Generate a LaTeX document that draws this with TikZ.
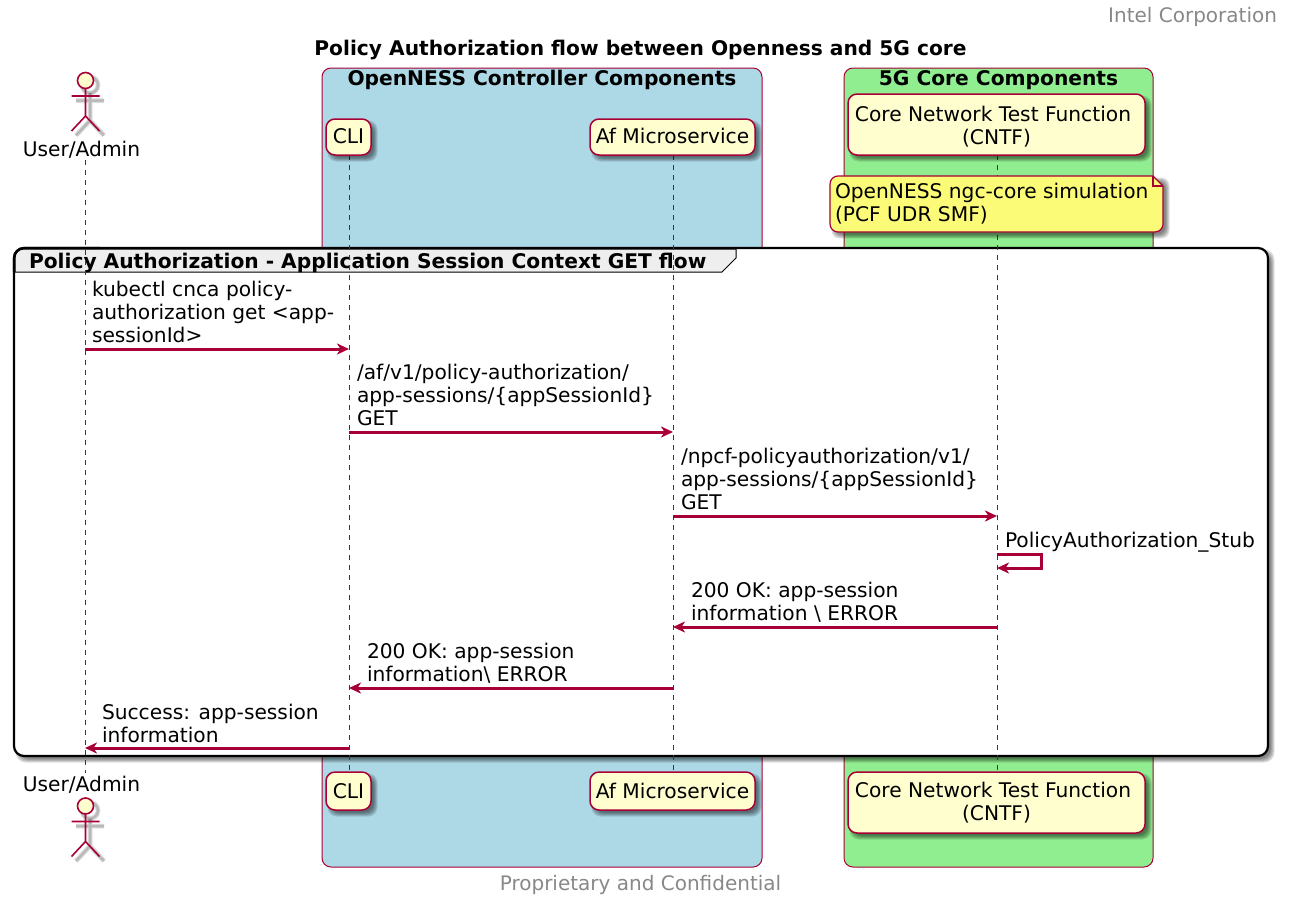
\documentclass[tikz,border=0pt]{standalone}
\usepackage{fontspec}
\setmainfont{DejaVu Sans}
\usetikzlibrary{arrows.meta,calc}
\definecolor{bordo}{HTML}{A80036}
\definecolor{partfill}{HTML}{FEFECE}
\definecolor{notefill}{HTML}{FBFB77}
\definecolor{bluebox}{HTML}{ADD8E6}
\definecolor{greenbox}{HTML}{90EE90}
\definecolor{tabfill}{HTML}{EEEEEE}
\definecolor{grayt}{HTML}{888888}
\newcommand{\fs}{\fontsize{20.2}{23}\selectfont}
\newcommand{\softshadow}[5]{% x1 y1 x2 y2 radius
  \foreach \d in {2.5,1.5,0.5,-0.5,-1.5}{
    \fill[black,opacity=0.12,rounded corners=#5pt] ($(#1,#2)+(4-\d,4-\d)$) rectangle ($(#3,#4)+(4+\d,4+\d)$);
  }}
\tikzset{
  x=1pt,y=-1pt,
  every node/.style={inner sep=0pt,outer sep=0pt},
  txt/.style={font=\fs,text=black,align=left,anchor=base west},
  boxtitle/.style={font=\fs\bfseries,text=black,anchor=base},
  part/.style={font=\fs,rounded corners=9pt,draw=bordo,line width=1.5pt,fill=partfill,anchor=north west,align=center,text depth=5pt},
  life/.style={draw=bordo,line width=1pt,dash pattern=on 5pt off 5pt},
  msg/.style={draw=bordo,line width=3pt,-{Stealth[length=12pt,width=11pt,inset=3.5pt]}},
  actor/.style={draw=bordo,line width=1.6pt},
  sgroup/.style={draw=bordo,line width=1pt,rounded corners=9pt},
}
\newcommand{\actorfig}[2]{%
  \begin{scope}[shift={(#1,#2)}]
    \begin{scope}[shift={(4.5,4.5)},draw=black,opacity=0.1]
      \foreach \w in {5,3.5,2}{
      \draw[line width=\w pt] (0,0) circle[radius=8];
      \draw[line width=\w pt] (0,8) -- (0,35.5) (-14,15.5) -- (14,15.5) (-14,50.5) -- (0,35.5) -- (14,50.5);}
    \end{scope}
    \draw[actor,fill=partfill] (0,0) circle[radius=8];
    \draw[actor] (0,8) -- (0,35.5) (-14,15.5) -- (14,15.5) (-14,50.5) -- (0,35.5) -- (14,50.5);
  \end{scope}}
\begin{document}
\begin{tikzpicture}
\useasboundingbox (0,0) rectangle (1289,902);
\fill[white] (0,0) rectangle (1289,902);

% header, title, footer
\node[font=\fontsize{20}{23}\selectfont,text=grayt,anchor=base east] (hdr) at (1277,22) {Intel Corporation};
\node[font=\fs\bfseries,anchor=base] (ttl) at (640.5,55) {Policy Authorization flow between Openness and 5G core};
\node[font=\fontsize{20}{23}\selectfont,text=grayt,anchor=base] (ftr) at (640.5,890) {Proprietary and Confidential};

% boxes
\path[sgroup,fill=bluebox] (322,68) rectangle (762,867);
\path[sgroup,fill=greenbox] (844,68) rectangle (1153,867);
\node[boxtitle] (bt1) at (542,85) {OpenNESS Controller Components};
\node[boxtitle] (bt2) at (998.5,85) {5G Core Components};

% lifeline ends
\coordinate (uT) at (85,160); \coordinate (uB) at (85,773);
\coordinate (cT) at (349,155); \coordinate (cB) at (349,772);
\coordinate (aT) at (673,155); \coordinate (aB) at (673,772);
\coordinate (nT) at (997,155); \coordinate (nB) at (997,772);

% group frame
\softshadow{14}{248}{1268}{756}{10}
\draw[black,line width=2.2pt,fill=white,rounded corners=10pt] (14,248) rectangle (1268,756);
\draw[black,line width=1pt,fill=tabfill] (15,272) -- (15,258) [rounded corners=9pt] -- (15,249) [sharp corners] -- (736,249) -- (736,258) -- (722,272) -- cycle;
\draw[black,line width=2.2pt,rounded corners=10pt] (14,272) -- (14,248) -- (100,248);
\node[boxtitle,anchor=base west] (gt) at (29,268) {Policy Authorization - Application Session Context GET flow};

% lifelines
\draw[life] (uT) -- (uB);
\draw[life] (cT) -- (cB);
\draw[life] (aT) -- (aB);
\draw[life] (nT) -- (nB);

% actors
\actorfig{85.5}{80.5}
\node[font=\fs,anchor=base] (uTop) at (81.5,156) {User/Admin};
\node[font=\fs,anchor=base] (uBot) at (81.5,791) {User/Admin};
\actorfig{85.5}{806}

% participants
\softshadow{326}{119}{371}{155}{9}
\softshadow{590}{119}{755}{155}{9}
\softshadow{848}{94}{1145}{155}{9}
\softshadow{326}{772}{371}{810}{9}
\softshadow{590}{772}{755}{810}{9}
\softshadow{848}{772}{1145}{833}{9}
\node[part,text height=17.6pt,minimum width=45pt,minimum height=36pt] (cli) at (326,119) {CLI};
\node[part,text height=17.6pt,minimum width=165pt,minimum height=36pt] (af) at (590,119) {Af Microservice};
\node[part,text height=44pt,minimum width=297pt,minimum height=61pt] (cntf) at (848,94) {Core Network Test Function\hspace*{7pt}\\(CNTF)};
\node[part,text height=19.6pt,minimum width=45pt,minimum height=38pt] (cli2) at (326,772) {CLI};
\node[part,text height=19.6pt,minimum width=165pt,minimum height=38pt] (af2) at (590,772) {Af Microservice};
\node[part,text height=40pt,minimum width=297pt,minimum height=61pt] (cntf2) at (848,772) {Core Network Test Function\hspace*{7pt}\\(CNTF)};

% note
\softshadow{830}{176}{1163}{232}{8}
\draw[draw=bordo,line width=1.2pt,fill=notefill] (1153,176) [rounded corners=8pt] -- (830,176) -- (830,232) -- (1163,232) [sharp corners] -- (1163,186) -- cycle;
\draw[draw=bordo,line width=1.2pt] (1153,176) -- (1153,186) -- (1163,186);
\node[txt] (note) at (835,221.5) {OpenNESS ngc-core simulation\\(PCF UDR SMF)};

% messages
\coordinate (m1a) at (85,349); \coordinate (m1b) at (349,349);
\coordinate (m2a) at (349,432); \coordinate (m2b) at (673,432);
\coordinate (m3a) at (673,516); \coordinate (m3b) at (997,516);
\coordinate (m4a) at (997,554); \coordinate (m4b) at (1041,554);
\coordinate (m4c) at (1041,568); \coordinate (m4d) at (997,568);
\coordinate (m5a) at (997,627); \coordinate (m5b) at (673,627);
\coordinate (m6a) at (673,688); \coordinate (m6b) at (349,688);
\coordinate (m7a) at (349,748); \coordinate (m7b) at (85,748);

\draw[msg] (m1a) -- (m1b);
\draw[msg] (m2a) -- (m2b);
\draw[msg] (m3a) -- (m3b);
\draw[msg] (m4a) -- (m4b) -- (m4c) -- (m4d);
\draw[msg] (m5a) -- (m5b);
\draw[msg] (m6a) -- (m6b);
\draw[msg] (m7a) -- (m7b);

\node[txt] (l1) at (92,342) {kubectl cnca policy-\\authorization get <app-\\sessionId>};
\node[txt] (l2) at (357,425) {/af/v1/policy-authorization/\\app-sessions/\{appSessionId\}\\GET};
\node[txt] (l3) at (681,509) {/npcf-policyauthorization/v1/\\app-sessions/\{appSessionId\}\\GET};
\node[txt] (l4) at (1005,547) {PolicyAuthorization\_Stub};
\node[txt] (l5) at (691,620) {200 OK: app-session\\information \textbackslash{} ERROR};
\node[txt] (l6) at (367,681) {200 OK: app-session\\information\textbackslash{} ERROR};
\node[txt] (l7) at (102,742) {Success: app-session\\information};
\end{tikzpicture}
\end{document}
